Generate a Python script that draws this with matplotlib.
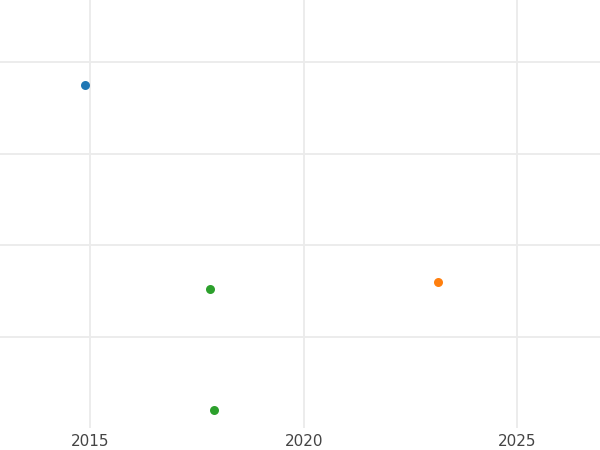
import matplotlib
matplotlib.use('Agg')
import matplotlib.pyplot as plt

# points (y has no labels, arbitrary units)
years_blue = [2014.88]
vals_blue = [3.75]
years_orange = [2023.15]
vals_orange = [1.60]
years_green = [2017.81, 2017.90]
vals_green = [1.52, 0.20]

x_ticks = [2015, 2020, 2025]
y_ticks = [1, 2, 3, 4]

fig = plt.figure(figsize=(6, 4.5), dpi=100)
ax = fig.add_axes([0, 1 - 428 / 450, 1, 428 / 450])

ax.scatter(years_blue, vals_blue, color='#1f77b4', s=42, zorder=3, linewidths=0)
ax.scatter(years_orange, vals_orange, color='#ff7f0e', s=42, zorder=3, linewidths=0)
ax.scatter(years_green, vals_green, color='#2ca02c', s=42, zorder=3, linewidths=0)

ax.set_xlim(2012.89, 2026.94)
ax.set_ylim(0, 4.68)
ax.set_xticks(x_ticks)
ax.set_yticks(y_ticks)
ax.set_yticklabels([])
ax.tick_params(length=0, labelsize=11, labelcolor='#444444', pad=4)
ax.tick_params(axis='y', labelleft=False)
ax.grid(True, color='#ebebeb', linewidth=1.3)
ax.set_axisbelow(True)
for s in ax.spines.values():
    s.set_visible(False)

fig.savefig('out.png', dpi=100)
